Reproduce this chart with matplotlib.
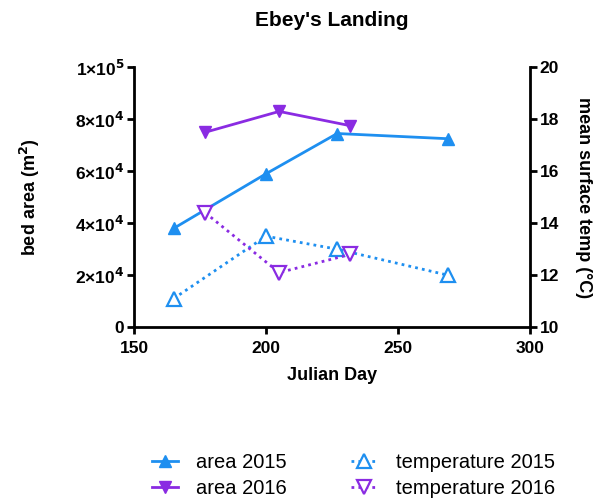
import matplotlib.pyplot as plt
from matplotlib.ticker import FixedLocator

plt.rcParams['font.family'] = ['Liberation Sans', 'DejaVu Sans']
plt.rcParams['font.weight'] = 'bold'

# Data
day_2015 = [165, 200, 227, 269]
area_2015 = [38000, 59000, 74500, 72500]
temp_2015 = [11.1, 13.5, 13.0, 12.0]

day_2016 = [177, 205, 232]
area_2016 = [75000, 83000, 77500]
temp_2016 = [14.4, 12.1, 12.8]

area_ticks = [0, 20000, 40000, 60000, 80000, 100000]
area_labels = ["0", r"2×10$^4$", r"4×10$^4$", r"6×10$^4$", r"8×10$^4$", r"1×10$^5$"]

BLUE = "#1e8ff0"
PURPLE = "#8a2be2"

fig = plt.figure(figsize=(6.04, 4.98), dpi=100)
ax = fig.add_axes([0.222, 0.343, 0.655, 0.522])
ax2 = ax.twinx()

l1, = ax.plot(day_2015, area_2015, color=BLUE, lw=2, marker="^", ms=9,
              label="area 2015")
l2, = ax.plot(day_2016, area_2016, color=PURPLE, lw=2, marker="v", ms=9,
              label="area 2016")
l3, = ax2.plot(day_2015, temp_2015, color=BLUE, lw=2, ls=(0, (1, 1.5)),
               marker="^", ms=10, mfc="white", mew=1.6, label="temperature 2015")
l4, = ax2.plot(day_2016, temp_2016, color=PURPLE, lw=2, ls=(0, (1, 1.5)),
               marker="v", ms=10, mfc="white", mew=1.6, label="temperature 2016")

ax.set_xlim(150, 300)
ax.set_ylim(0, 100000)
ax2.set_ylim(10, 20)

ax.set_xticks([150, 200, 250, 300])
ax.yaxis.set_major_locator(FixedLocator(area_ticks))
ax.set_yticklabels(area_labels)
ax2.set_yticks([10, 12, 14, 16, 18, 20])

for a in (ax, ax2):
    a.spines["top"].set_visible(False)
    for s in a.spines.values():
        s.set_linewidth(2)
    a.tick_params(width=2, length=5, labelsize=12.5, pad=2)
ax.tick_params(axis="x", pad=5)
ax.spines["right"].set_visible(False)
ax2.spines["left"].set_visible(False)
ax2.spines["bottom"].set_visible(False)

for lab in ax.get_xticklabels() + ax.get_yticklabels() + ax2.get_yticklabels():
    lab.set_fontweight("bold")

ax.set_xlabel("Julian Day", fontsize=13, fontweight="bold", labelpad=8)
ax.set_ylabel(r"bed area (m$^2$)", fontsize=13, fontweight="bold", labelpad=24)
ax2.set_ylabel("mean surface temp (°C)", fontsize=13, fontweight="bold",
               rotation=270, labelpad=24)
ax.set_title("Ebey's Landing", fontsize=15, fontweight="bold", pad=30)

leg = fig.legend(handles=[l1, l2, l3, l4], loc="lower center",
                 bbox_to_anchor=(0.585, -0.036), ncol=2, frameon=False,
                 fontsize=14.5, handlelength=1.3, handletextpad=0.9,
                 columnspacing=3.2, labelspacing=0.35)
for t in leg.get_texts():
    t.set_fontweight("normal")

fig.savefig("out.png", dpi=100)
